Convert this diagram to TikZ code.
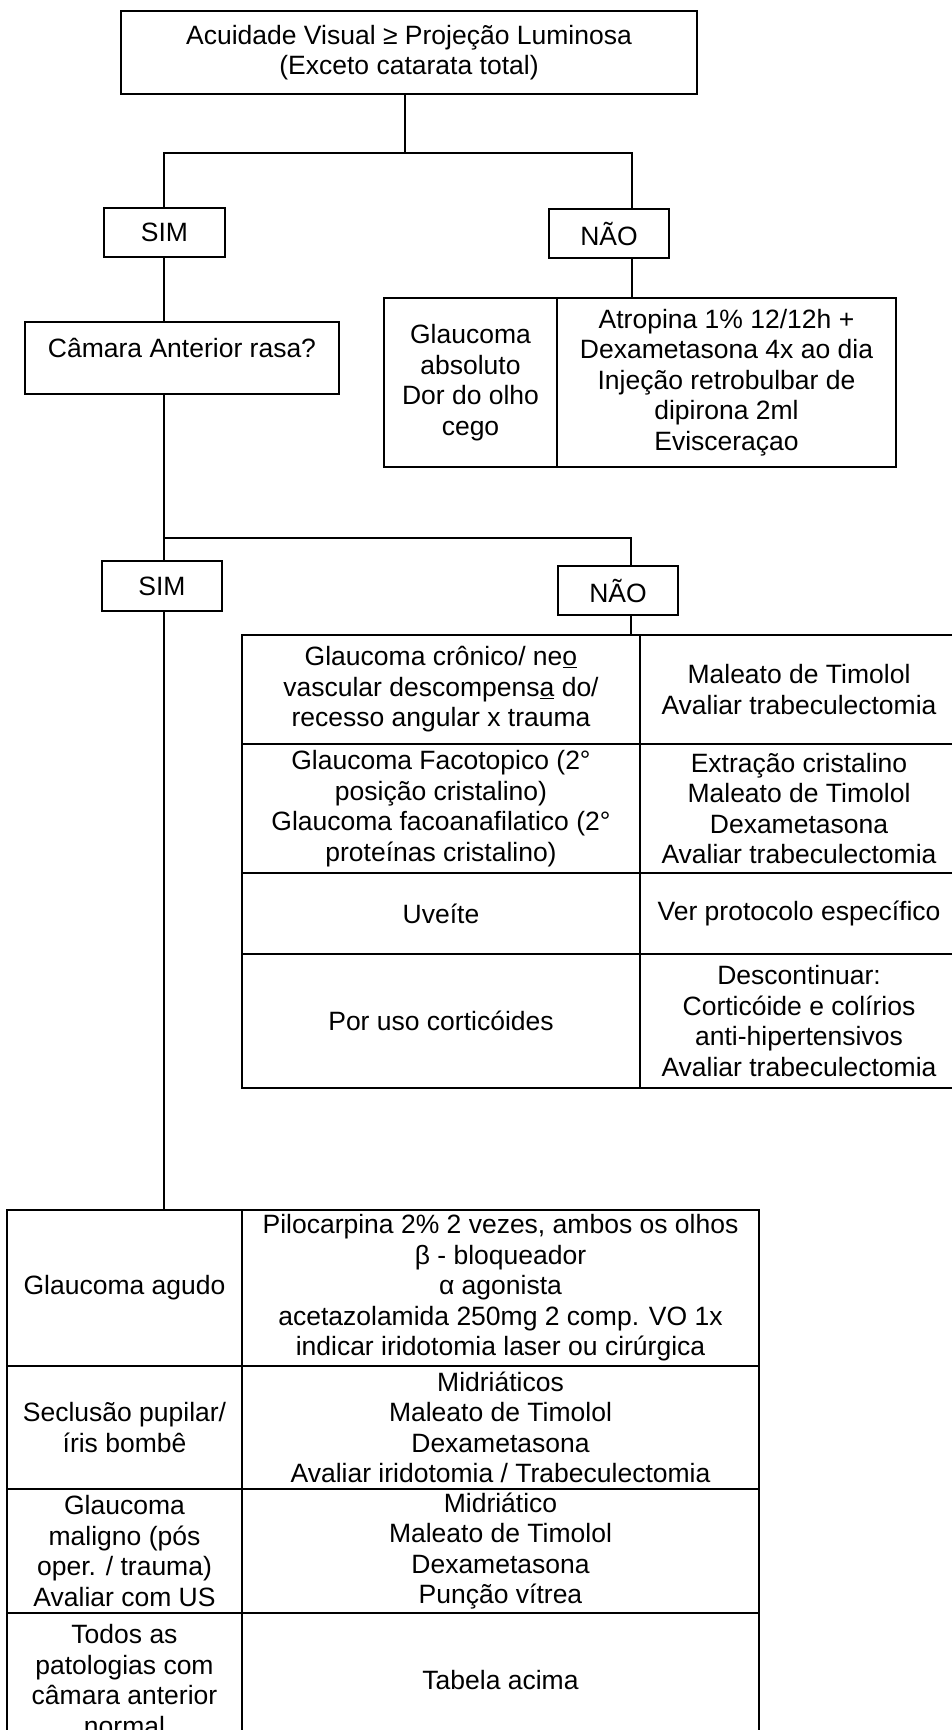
\documentclass[tikz,border=0pt]{standalone}
\usepackage{fontspec}
\setmainfont{Liberation Sans}
\usetikzlibrary{positioning}
\tikzset{
  box/.style={draw, line width=1.3pt, align=center, inner sep=0pt, outer sep=0pt},
  cell/.style={draw, line width=2pt, align=center, inner sep=0pt, outer sep=0pt},
  link/.style={line width=1.2pt},
  t1l/.style={cell, minimum width=173pt},
  t1r/.style={cell, minimum width=339pt},
  t2l/.style={cell, minimum width=398pt},
  t2r/.style={cell, minimum width=318pt},
  t3l/.style={cell, minimum width=235pt},
  t3r/.style={cell, minimum width=517pt}
}
\begin{document}
\begin{tikzpicture}[x=1pt, y=-1pt, font=\fontsize{26.5}{30.5}\selectfont]
    \useasboundingbox (0,0) rectangle (952,1730);
    \clip (0,0) rectangle (952,1730);
    \node[box, anchor=north west, minimum width=576pt, minimum height=83pt] (acuidade) at (121,11) {Acuidade Visual ≥ Projeção Luminosa\\(Exceto catarata total)};
    \node[box, anchor=north west, minimum width=121pt, minimum height=49pt] (sim1) at (104,208) {SIM};
    \node[box, anchor=north west, minimum width=120pt, minimum height=49pt] (nao1) at (549,209) {NÃO};
    \node[box, anchor=north west, minimum width=314pt, minimum height=72pt, text height=24pt, text depth=25pt] (camara) at (25,322) {Câmara Anterior rasa?};
    \node[box, anchor=north west, minimum width=120pt, minimum height=50pt] (sim2) at (102,561) {SIM};
    \node[box, anchor=north west, minimum width=120pt, minimum height=49pt] (nao2) at (558,566) {NÃO};

    \node[t1l, anchor=north west, minimum height=169pt] (absoluto) at (384,298) {Glaucoma\\absoluto\\Dor do olho\\cego};
    \node[t1r, right=0pt of absoluto, minimum height=169pt] (absolutorx) {Atropina 1\% 12/12h +\\Dexametasona 4x ao dia\\Injeção retrobulbar de\\dipirona 2ml\\Evisceraçao};

    \node[t2l, anchor=north west, minimum height=109pt] (cronico) at (242,635) {Glaucoma crônico/ ne\underline{o}\\vascular descompens\underline{a} do/\\recesso angular x trauma};
    \node[t2r, right=0pt of cronico, minimum height=109pt] (cronicorx) {Maleato de Timolol\\Avaliar trabeculectomia};
    \node[t2l, below=0pt of cronico, minimum height=129pt] (faco) {Glaucoma Facotopico (2°\\posição cristalino)\\Glaucoma facoanafilatico (2°\\proteínas cristalino)};
    \node[t2r, right=0pt of faco, minimum height=129pt] (facorx) {Extração cristalino\\Maleato de Timolol\\Dexametasona\\Avaliar trabeculectomia};
    \node[t2l, below=0pt of faco, minimum height=81pt] (uveite) {Uveíte};
    \node[t2r, right=0pt of uveite, minimum height=81pt] (uveiterx) {Ver protocolo específico};
    \node[t2l, below=0pt of uveite, minimum height=134pt] (corticoide) {Por uso corticóides};
    \node[t2r, right=0pt of corticoide, minimum height=134pt] (corticoiderx) {Descontinuar:\\Corticóide e colírios\\anti-hipertensivos\\Avaliar trabeculectomia};

    \node[t3l, anchor=north west, minimum height=156pt] (agudo) at (7,1210) {Glaucoma agudo};
    \node[t3r, right=0pt of agudo, minimum height=156pt] (agudorx) {Pilocarpina 2\% 2 vezes, ambos os olhos\\β - bloqueador\\α agonista\\acetazolamida 250mg 2 comp. VO 1x\\indicar iridotomia laser ou cirúrgica};
    \node[t3l, below=0pt of agudo, minimum height=123pt] (seclusao) {Seclusão pupilar/\\íris bombê};
    \node[t3r, right=0pt of seclusao, minimum height=123pt] (seclusaorx) {Midriáticos\\Maleato de Timolol\\Dexametasona\\Avaliar iridotomia / Trabeculectomia};
    \node[t3l, below=0pt of seclusao, minimum height=124pt] (maligno) {Glaucoma\\maligno (pós\\oper. / trauma)\\Avaliar com US};
    \node[t3r, right=0pt of maligno, minimum height=124pt] (malignorx) {Midriático\\Maleato de Timolol\\Dexametasona\\Punção vítrea};
    \node[t3l, below=0pt of maligno, minimum height=134pt] (todos) {Todos as\\patologias com\\câmara anterior\\normal};
    \node[t3r, right=0pt of todos, minimum height=134pt] (todosrx) {Tabela acima};

    \coordinate (fork1) at (405,153);
    \coordinate (forkL1) at (164,153);
    \coordinate (forkR1) at (632,153);
    \coordinate (forkL2) at (164,538);
    \coordinate (forkR2) at (631,538);
    \draw[link] (acuidade.south -| fork1) -- (fork1);
    \draw[link] (sim1.north -| forkL1) -- (forkL1) -- (forkR1) -- (nao1.north -| forkR1);
    \draw[link] (nao1.south -| forkR1) -- (absolutorx.north -| forkR1);
    \draw[link] (sim1.south -| forkL1) -- (camara.north -| forkL1);
    \draw[link] (camara.south -| forkL2) -- (forkL2) -- (forkR2) -- (nao2.north -| forkR2);
    \draw[link] (forkL2) -- (sim2.north -| forkL2);
    \draw[link] (nao2.south -| forkR2) -- (cronico.north -| forkR2);
    \draw[link] (sim2.south -| forkL2) -- (agudo.north -| forkL2);
\end{tikzpicture}
\end{document}
